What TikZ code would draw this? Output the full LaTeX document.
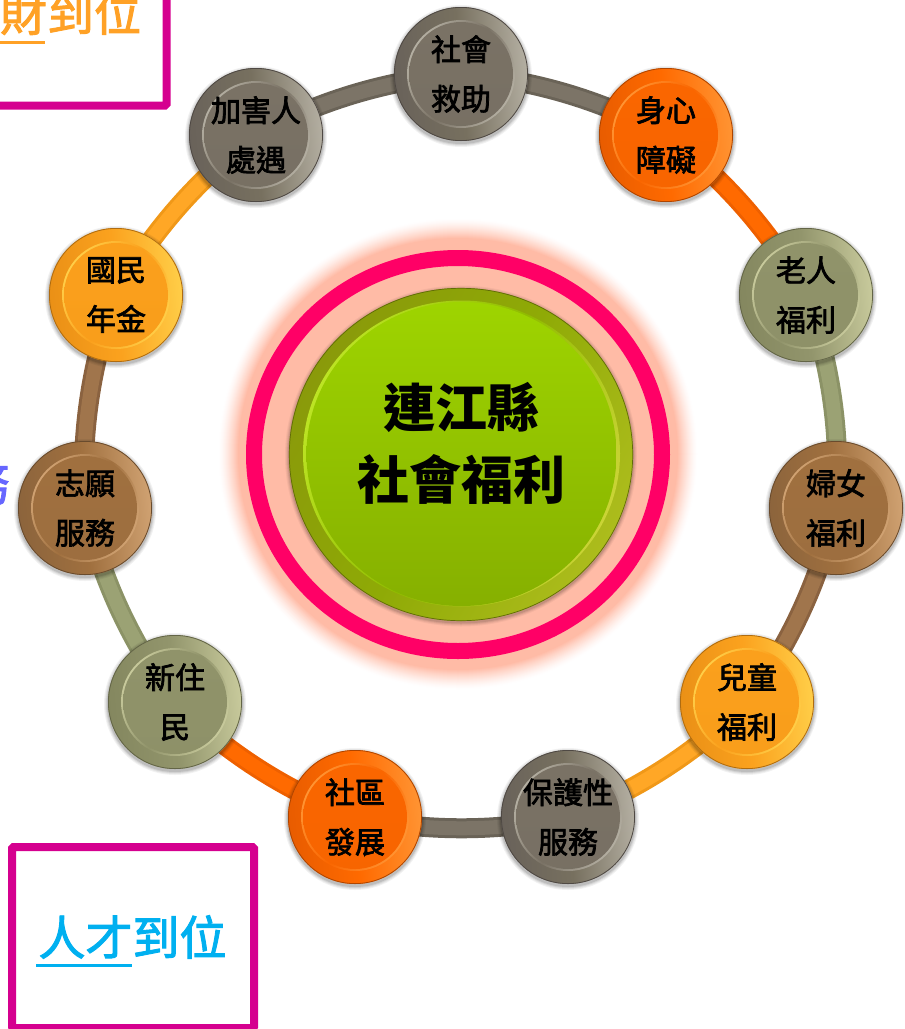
\documentclass[tikz,border=0pt]{standalone}
\usepackage{fontspec}
\newfontfamily\cjkb{Noto Sans CJK TC}
\newfontfamily\cjkm[FakeBold=2.4]{Noto Sans CJK TC}
\newfontfamily\cjkh[FakeBold=2]{Noto Sans CJK TC}
\usetikzlibrary{backgrounds,shapes.geometric}
\definecolor{grayB}{HTML}{77705F}\definecolor{grayL}{HTML}{B4AFA2}\definecolor{grayD}{HTML}{69625A}\definecolor{grayF}{HTML}{7A7265}\definecolor{grayE}{HTML}{6A6357}
\definecolor{orngB}{HTML}{FF6A00}\definecolor{orngL}{HTML}{FF9433}\definecolor{orngD}{HTML}{E85C00}\definecolor{orngF}{HTML}{FA6600}\definecolor{orngE}{HTML}{EE6000}
\definecolor{olivB}{HTML}{92956C}\definecolor{olivL}{HTML}{C8CA9C}\definecolor{olivD}{HTML}{84875F}\definecolor{olivF}{HTML}{90936A}\definecolor{olivE}{HTML}{8B9266}
\definecolor{brwnB}{HTML}{A0703F}\definecolor{brwnL}{HTML}{D0A272}\definecolor{brwnD}{HTML}{8C643C}\definecolor{brwnF}{HTML}{A0703F}\definecolor{brwnE}{HTML}{8A6240}
\definecolor{ambrB}{HTML}{FBA21E}\definecolor{ambrL}{HTML}{FFCE48}\definecolor{ambrD}{HTML}{EA9016}\definecolor{ambrF}{HTML}{FBA01C}\definecolor{ambrE}{HTML}{F09818}
\definecolor{linkG}{HTML}{7C7467}\definecolor{linkO}{HTML}{FF6A00}\definecolor{linkV}{HTML}{9BA274}\definecolor{linkW}{HTML}{A0754C}\definecolor{linkA}{HTML}{FFA726}
\definecolor{boxpink}{HTML}{D5008F}\definecolor{ringpink}{HTML}{FF0066}\definecolor{glow}{HTML}{FFBBA6}
\definecolor{goldtxt}{HTML}{FFA126}\definecolor{cyantxt}{HTML}{00B0F0}\definecolor{bluetxt}{HTML}{6666FF}
\definecolor{hubR}{HTML}{8A9A0A}\definecolor{hubS}{HTML}{ACBC1C}\definecolor{hubM}{HTML}{8FAA06}
\definecolor{hubC}{HTML}{BCE424}\definecolor{hubK}{HTML}{CAD436}\definecolor{hubN}{HTML}{90BC00}
\definecolor{faceT}{HTML}{9ED400}\definecolor{faceB}{HTML}{86B000}
\tikzset{
  beadlabel/.style={circle,minimum size=134,inner sep=0,align=center,text=black,
    font=\cjkm\fontsize{30}{49.5}\selectfont},
  biglabel/.style={align=center,text=black,inner sep=0,font=\cjkb\bfseries\fontsize{52}{72}\selectfont},
  boxlabel/.style={inner sep=0,font=\cjkh\fontsize{47}{50}\selectfont},
  framebox/.style={draw=boxpink,line width=8,rounded corners=1.5},
  link/.style={line width=20,line cap=butt},
  linkcore/.style={line width=14,line cap=butt},
  arc/.style={bend left=12,looseness=0.87}
}
\newcommand{\bead}[5]{%
  \foreach \s/\o in {4/.05,3/.06,2/.08,1/.10}{\fill[black,opacity=\o] (#2,#3+2) circle[radius=67+\s];}
  \shade[left color=#4D,right color=#4L,middle color=#4B,shading angle=95] (#2,#3) circle[radius=67];
  \draw[#4D!75!black,line width=.8] (#2,#3) circle[radius=66.6];
  \shade[left color=#4L,right color=#4L,middle color=#4F,shading angle=60] (#2,#3) circle[radius=54];
  \shade[top color=#4F,bottom color=#4D!15!#4F] (#2,#3) circle[radius=52];
  \node[beadlabel] (#1) at (#2,#3) {#5};
}
\newcommand{\linkarc}[3]{%
  \draw[link,#3E] (#1.center) to[arc] (#2.center);
}
\begin{document}
\begin{tikzpicture}[x=1pt,y=-1pt]
\useasboundingbox (0,0) rectangle (905,1029);
% boxes and cut-off words
\draw[framebox] (-20,-20) rectangle (166.5,105.5);
\node[boxlabel,text=goldtxt] (caiword) at (47,13) {人財到位};
\coordinate (caiA) at (-10,42);\coordinate (caiB) at (45,42);
\draw[goldtxt,line width=3] (caiA) -- (caiB);
\node[boxlabel,text=bluetxt] (wuword) at (-14,483) {務};
\draw[framebox] (12,847) rectangle (254,1028);
\node[boxlabel,text=cyantxt] (caiword2) at (132.5,937) {人才到位};
\coordinate (renA) at (36,965);\coordinate (renB) at (132,965);
\draw[cyantxt,line width=3] (renA) -- (renB);
% centre
\foreach \k in {0,...,20}{
  \pgfmathsetmacro\rx{240-\k}\pgfmathsetmacro\ry{236-\k}\pgfmathsetmacro\p{100*(\k/20)^1.4}
  \fill[glow!\p!white] (458,454) ellipse[x radius=\rx,y radius=\ry];
}
\draw[ringpink,line width=16] (458,454.5) ellipse[x radius=204,y radius=196.5];
\foreach \s/\o in {4/.04,3/.05,2/.07,1/.09}{\fill[black,opacity=\o] (461,456) ellipse[x radius=172+\s,y radius=166.5+\s];}
\shade[left color=hubR,right color=hubS,middle color=hubM,shading angle=60] (461,454.5) ellipse[x radius=172,y radius=166.5];
\draw[hubR!70!black,line width=.7] (461,454.5) ellipse[x radius=171.7,y radius=166.2];
\shade[left color=hubC,right color=hubK,middle color=hubN,shading angle=65] (461.5,453.5) ellipse[x radius=158.5,y radius=153];
\shade[top color=faceT,bottom color=faceB] (461.5,454) ellipse[x radius=155,y radius=152];
\node[ellipse,minimum width=344,minimum height=333,inner sep=0] (hub) at (461,454.5) {};
\node[biglabel] (hubtext) at (461.5,443) {連江縣\\社會福利};
% beads
\bead{n1}{461}{74}{gray}{社會\\救助}
\bead{n2}{666}{135}{orng}{身心\\障礙}
\bead{n3}{806}{295}{oliv}{老人\\福利}
\bead{n4}{836}{508}{brwn}{婦女\\福利}
\bead{n5}{747}{702}{ambr}{兒童\\福利}
\bead{n6}{568}{817}{gray}{保護性\\服務}
\bead{n7}{355}{817}{orng}{社區\\發展}
\bead{n8}{175}{702}{oliv}{新住\\民}
\bead{n9}{85}{508}{brwn}{志願\\服務}
\bead{n10}{116}{295}{ambr}{國民\\年金}
\bead{n11}{256}{135}{gray}{加害人\\處遇}
% connectors
\begin{scope}[on background layer]
\linkarc{n1}{n2}{gray}\linkarc{n2}{n3}{orng}\linkarc{n3}{n4}{oliv}\linkarc{n4}{n5}{brwn}
\linkarc{n5}{n6}{ambr}\linkarc{n6}{n7}{gray}\linkarc{n7}{n8}{orng}\linkarc{n8}{n9}{oliv}
\linkarc{n9}{n10}{brwn}\linkarc{n10}{n11}{ambr}\linkarc{n11}{n1}{gray}
\draw[linkcore,linkG] (n1.center) to[arc] (n2.center);
\draw[linkcore,linkO] (n2.center) to[arc] (n3.center);
\draw[linkcore,linkV] (n3.center) to[arc] (n4.center);
\draw[linkcore,linkW] (n4.center) to[arc] (n5.center);
\draw[linkcore,linkA] (n5.center) to[arc] (n6.center);
\draw[linkcore,linkG] (n6.center) to[arc] (n7.center);
\draw[linkcore,linkO] (n7.center) to[arc] (n8.center);
\draw[linkcore,linkV] (n8.center) to[arc] (n9.center);
\draw[linkcore,linkW] (n9.center) to[arc] (n10.center);
\draw[linkcore,linkA] (n10.center) to[arc] (n11.center);
\draw[linkcore,linkG] (n11.center) to[arc] (n1.center);
\end{scope}
\end{tikzpicture}
\end{document}
